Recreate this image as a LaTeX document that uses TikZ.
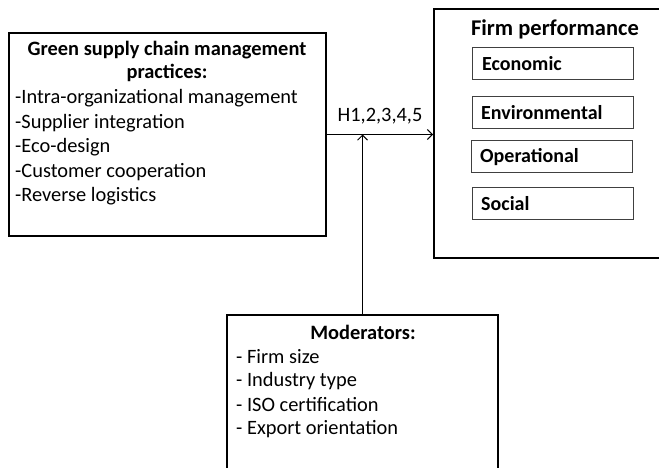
\documentclass[tikz,border=0pt]{standalone}
\usepackage{fontspec}
\setmainfont{Carlito}
\usetikzlibrary{arrows.meta}
\begin{document}
\begin{tikzpicture}[x=1pt,y=-1pt,
  box/.style={draw=black,line width=1.2pt,inner sep=0pt},
  perfbox/.style={draw=black,line width=2pt,inner sep=0pt},
  subbox/.style={draw=black!75,line width=1pt,inner sep=0pt,minimum width=161pt,minimum height=32pt},
  txt/.style={inner sep=0pt,font=\fontsize{20.4}{24}\selectfont},
  btxt/.style={inner sep=0pt,font=\fontsize{20.4}{24}\selectfont\bfseries},
  stxt/.style={inner sep=0pt,anchor=west,font=\fontsize{20}{24}\selectfont\bfseries},
  link/.style={line width=1pt,-{Straight Barb[length=5pt,width=10pt]}}]
\useasboundingbox (0,0) rectangle (659,468);
\clip (0,0) rectangle (659,468);
% boxes
\node[box,minimum width=317pt,minimum height=203pt] (gscm) at (167.5,134.5) {};
\node[perfbox,minimum width=246pt,minimum height=249pt] (perf) at (557,133.5) {};
\node[box,minimum width=271pt,minimum height=175pt] (mod) at (362.5,402.5) {};
% left texts
\node[btxt] (g1) at (167,50) {Green supply chain management};
\node[btxt] (g2) at (167,73) {practices:};
\node[txt,anchor=west] (g3) at (15,98) {-Intra-organizational management};
\node[txt,anchor=west] (g4) at (15,123) {-Supplier integration};
\node[txt,anchor=west] (g5) at (15,147) {-Eco-design};
\node[txt,anchor=west] (g6) at (15,172) {-Customer cooperation};
\node[txt,anchor=west] (g7) at (15,196) {-Reverse logistics};
% performance
\node[btxt,font=\fontsize{22.5}{26}\selectfont\bfseries] (pt) at (555,29) {Firm performance};
\node[subbox] (eco) at (553,64) {};
\node[subbox] (env) at (552.5,113) {};
\node[subbox] (ope) at (552,157) {};
\node[subbox] (soc) at (552.5,203.5) {};
\node[stxt] (ecot) at (482,64) {Economic};
\node[stxt] (envt) at (481,113) {Environmental};
\node[stxt] (opet) at (480,157) {Operational};
\node[stxt] (soct) at (481,204) {Social};
% moderators
\node[btxt] (m1) at (363,332) {Moderators:};
\node[txt,anchor=west] (m2) at (236,357) {- Firm size};
\node[txt,anchor=west] (m3) at (236,381) {- Industry type};
\node[txt,anchor=west] (m4) at (236,405) {- ISO certification};
\node[txt,anchor=west] (m5) at (236,429) {- Export orientation};
% connectors
\coordinate (join) at (gscm.east -| mod.north);
\draw[link] (gscm.east) -- (gscm.east -| perf.west);
\draw[link] (mod.north) -- (join);
\node[txt] (h) at (380,116) {H1,2,3,4,5};
\end{tikzpicture}
\end{document}
